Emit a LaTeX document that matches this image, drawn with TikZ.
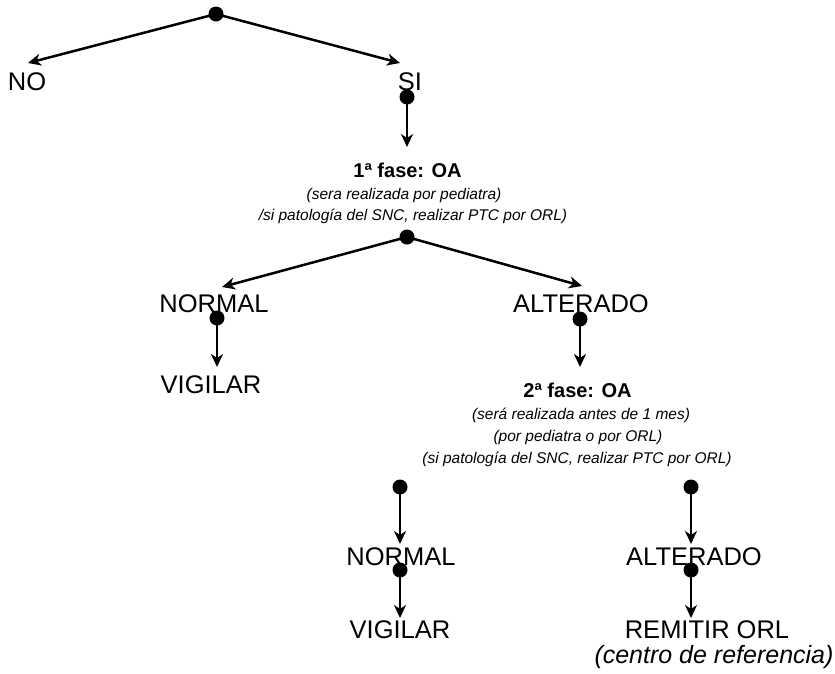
\documentclass[tikz,border=0pt]{standalone}
\usepackage{fontspec}
\setmainfont{Liberation Sans}
\usetikzlibrary{arrows.meta}
\begin{document}
\begin{tikzpicture}[x=1pt,y=-1pt,
  conn/.style={line width=2.5pt,-{Stealth[length=13pt,width=12pt,inset=4pt]}},
  dotmark/.style={fill=black},
  big/.style={inner sep=0pt,anchor=base,font=\fontsize{25.5}{28}\selectfont},
  bigit/.style={inner sep=0pt,anchor=base,font=\fontsize{25}{28}\selectfont\itshape},
  phase/.style={inner sep=0pt,anchor=base,font=\fontsize{20}{24}\selectfont\bfseries},
  note/.style={inner sep=0pt,anchor=base,font=\fontsize{15.5}{18}\selectfont\itshape}]
\useasboundingbox (0,0) rectangle (835,673);
% dots
\coordinate (d0) at (216,14);
\coordinate (d1) at (407,97);
\coordinate (d2) at (407,237);
\coordinate (d3) at (217,318);
\coordinate (d4) at (580,319);
\coordinate (d5) at (400,487);
\coordinate (d6) at (400,570);
\coordinate (d7) at (691,487);
\coordinate (d8) at (691,570);
% arrow tips
\coordinate (tNO) at (28,63);
\coordinate (tSI) at (400,63);
\coordinate (tF1) at (407,147);
\coordinate (tN1) at (222,287);
\coordinate (tA1) at (582,286);
\coordinate (tV1) at (217,367);
\coordinate (tF2) at (580,367);
\coordinate (tN2) at (400,544);
\coordinate (tV2) at (400,618);
\coordinate (tA2) at (691,544);
\coordinate (tR2) at (691,618);
% texts
\node[big] (no) at (27,90) {NO};
\node[big] (si) at (410,90) {SI};
\node[phase] (f1) at (407.5,177) {1ª fase: OA};
\node[note] (f1a) at (404,199) {(sera realizada por pediatra)};
\node[note] (f1b) at (413,220) {/si patología del SNC, realizar PTC por ORL)};
\node[big] (n1) at (214,312) {NORMAL};
\node[big] (a1) at (581,312) {ALTERADO};
\node[big] (v1) at (211,393) {VIGILAR};
\node[phase] (f2) at (577.5,397) {2ª fase: OA};
\node[note] (f2a) at (581,419) {(será realizada antes de 1 mes)};
\node[note] (f2b) at (578,441) {(por pediatra o por ORL)};
\node[note] (f2c) at (577,463) {(si patología del SNC, realizar PTC por ORL)};
\node[big] (n2) at (401,565) {NORMAL};
\node[big] (a2) at (694,565) {ALTERADO};
\node[big] (v2) at (400,638) {VIGILAR};
\node[big] (r2) at (707,638) {REMITIR ORL};
\node[bigit] (c2) at (714,663) {(centro de referencia)};
% connectors
\draw[conn] (d0) -- (tNO);
\draw[conn] (d0) -- (tSI);
\draw[conn] (d1) -- (tF1);
\draw[conn] (d2) -- (tN1);
\draw[conn] (d2) -- (tA1);
\draw[conn] (d3) -- (tV1);
\draw[conn] (d4) -- (tF2);
\draw[conn] (d5) -- (tN2);
\draw[conn] (d6) -- (tV2);
\draw[conn] (d7) -- (tA2);
\draw[conn] (d8) -- (tR2);
\foreach \d in {d0,d1,d2,d3,d4,d5,d6,d7,d8} \fill[dotmark] (\d) circle (7.5);
\end{tikzpicture}
\end{document}
